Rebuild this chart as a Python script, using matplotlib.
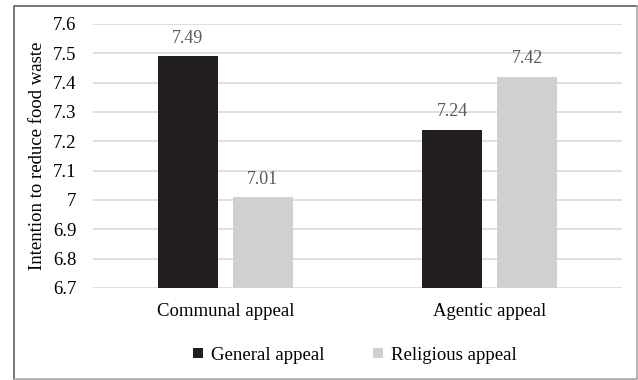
import matplotlib.pyplot as plt
import numpy as np
from matplotlib.lines import Line2D

categories = ["Communal appeal", "Agentic appeal"]
general = [7.49, 7.24]
religious = [7.01, 7.42]
yticks = [6.7, 6.8, 6.9, 7.0, 7.1, 7.2, 7.3, 7.4, 7.5, 7.6]
ytick_labels = ["6.7", "6.8", "6.9", "7", "7.1", "7.2", "7.3", "7.4", "7.5", "7.6"]

plt.rcParams['font.family'] = ['Liberation Serif', 'DejaVu Serif']

W, H = 638, 380
fig = plt.figure(figsize=(W / 100, H / 100), dpi=100)
ax = fig.add_axes([93 / W, 1 - 288 / H, (622 - 93) / W, (288 - 24) / H])

x = np.arange(len(categories))
bw = 0.227
off = bw / 2 + 0.028
dark, light = "#231f20", "#d0d0d2"
b1 = ax.bar(x - off, [g - 6.7 for g in general], bw, bottom=6.7, color=dark, zorder=3)
b2 = ax.bar(x + off, [r - 6.7 for r in religious], bw, bottom=6.7, color=light, zorder=3)

for xs, vals in ((x - off, general), (x + off, religious)):
    for xi, v in zip(xs, vals):
        ax.text(xi, v + 0.032, "{:.2f}".format(v), ha="center", va="bottom",
                fontsize=13, color="#595959")

ax.set_xlim(-0.5, 1.5)
ax.set_ylim(6.7, 7.6)
ax.set_yticks(yticks)
ax.set_yticklabels(ytick_labels)
ax.set_xticks(x)
ax.set_xticklabels(categories)
ax.tick_params(length=0, labelsize=13.5, colors="black")
ax.tick_params(axis="y", pad=12)
ax.tick_params(axis="x", pad=11)
ax.grid(axis="y", color="#d9d9d9", linewidth=1.2, zorder=0)
for s in ax.spines.values():
    s.set_visible(False)
ax.set_ylabel("Intention to reduce food waste", fontsize=13.5)
ax.yaxis.set_label_coords(-0.089, 0.5)

leg = fig.legend([b1, b2], ["General appeal", "Religious appeal"], loc="center",
                 bbox_to_anchor=(355 / W, 1 - 355 / H), ncol=2, frameon=False,
                 fontsize=13.5, handlelength=0.5, handleheight=0.5,
                 handletextpad=0.45, columnspacing=2.6)

# outer border: darker top/left, lighter right/bottom
l, r, b, t = 13.5 / W, 636.5 / W, 1.5 / H, 1 - 6 / H
fig.add_artist(Line2D([l, l, r], [b, t, t], transform=fig.transFigure,
                      color="#5f5f5f", linewidth=1.2))
fig.add_artist(Line2D([l, r, r], [b, b, t], transform=fig.transFigure,
                      color="#a6a6a6", linewidth=1.2))

fig.savefig("out.png", dpi=100)
